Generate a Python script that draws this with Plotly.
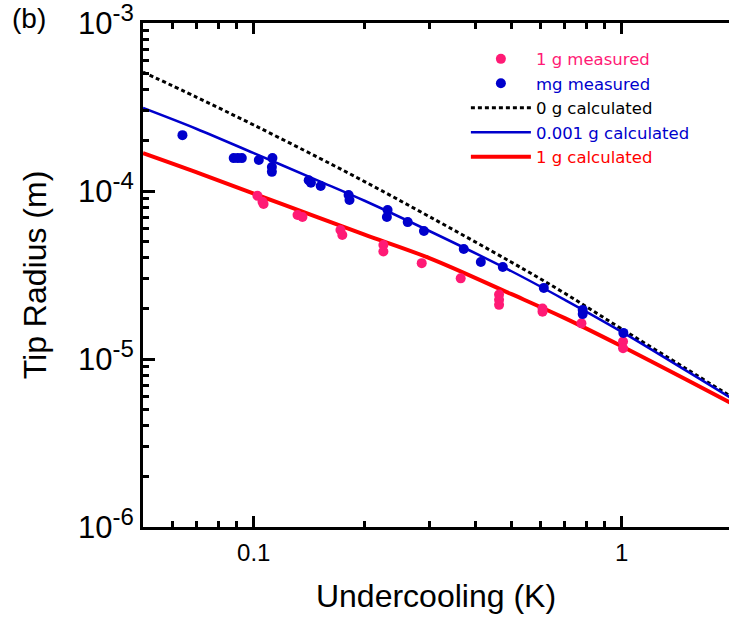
import math
import plotly.graph_objects as go

# ---- data ----
x_calc = [0.05, 0.07, 0.1, 0.15, 0.2, 0.3, 0.5, 0.7, 1.0, 1.5, 2.0]
r_0g = [5.11e-4, 3.61e-4, 2.47e-4, 1.578e-4, 1.138e-4, 7.04e-5, 3.78e-5, 2.46e-5, 1.509e-5, 8.72e-6, 5.90e-6]
r_0001g = [3.12e-4, 2.34e-4, 1.68e-4, 1.15e-4, 8.75e-5, 5.78e-5, 3.34e-5, 2.25e-5, 1.45e-5, 8.49e-6, 5.78e-6]
r_1g = [1.68e-4, 1.29e-4, 9.64e-5, 6.94e-5, 5.50e-5, 3.99e-5, 2.44e-5, 1.75e-5, 1.19e-5, 7.53e-6, 5.4e-6]

mg_x = [0.064, 0.0882, 0.0905, 0.0928, 0.1032, 0.1124, 0.112, 0.112, 0.141, 0.143, 0.152,
        0.181, 0.182, 0.231, 0.230, 0.262, 0.290, 0.372, 0.414, 0.475, 0.614, 0.783, 0.783, 1.01]
mg_y = [2.15e-4, 1.57e-4, 1.57e-4, 1.57e-4, 1.53e-4, 1.57e-4, 1.39e-4, 1.30e-4, 1.16e-4, 1.12e-4, 1.07e-4,
        9.46e-5, 8.83e-5, 7.7e-5, 7.0e-5, 6.53e-5, 5.78e-5, 4.52e-5, 3.78e-5, 3.53e-5, 2.65e-5, 1.96e-5, 1.85e-5, 1.43e-5]

g1_x = [0.1023, 0.1056, 0.1063, 0.1315, 0.1356, 0.172, 0.174, 0.225, 0.225, 0.286, 0.365,
        0.464, 0.464, 0.464, 0.609, 0.609, 0.777, 1.008, 1.008]
g1_y = [9.37e-5, 8.63e-5, 8.37e-5, 7.2e-5, 7.0e-5, 5.86e-5, 5.47e-5, 4.77e-5, 4.36e-5, 3.72e-5, 3.02e-5,
        2.42e-5, 2.25e-5, 2.10e-5, 2.0e-5, 1.91e-5, 1.63e-5, 1.27e-5, 1.16e-5]

y_tickvals = [1e-6, 1e-5, 1e-4, 1e-3]
y_exponents = ["-6", "-5", "-4", "-3"]
x_tickvals = [0.1, 1]
x_ticktext = ["0.1", "1"]

PINK = "#FF1A75"
BLUE = "#0000CC"
RED = "#FF0000"
FONT = "Arial, Liberation Sans, sans-serif"
LEG_FONT = "DejaVu Sans, sans-serif"

y_ticktext = ["10<sup><span style='font-size:24px'>%s</span></sup>" % e for e in y_exponents]

fig = go.Figure()
fig.add_trace(go.Scatter(x=x_calc, y=r_0g, mode="lines",
                         line=dict(color="black", width=3, dash="4px,3px", shape="spline"),
                         name="0 g calculated", legendrank=3))
fig.add_trace(go.Scatter(x=x_calc, y=r_0001g, mode="lines", line=dict(color=BLUE, width=2.5, shape="spline"),
                         name="<span style='color:%s'>0.001 g calculated</span>" % BLUE, legendrank=4))
fig.add_trace(go.Scatter(x=x_calc, y=r_1g, mode="lines", line=dict(color=RED, width=4, shape="spline"),
                         name="<span style='color:%s'>1 g calculated</span>" % RED, legendrank=5))
fig.add_trace(go.Scatter(x=g1_x, y=g1_y, mode="markers", marker=dict(color=PINK, size=10),
                         name="<span style='color:%s'>1 g measured</span>" % PINK, legendrank=1))
fig.add_trace(go.Scatter(x=mg_x, y=mg_y, mode="markers", marker=dict(color=BLUE, size=10),
                         name="<span style='color:%s'>mg measured</span>" % BLUE, legendrank=2))

xmin = math.log10(0.05)
xmax = xmin + 586 / 368.0

minor = dict(dtick="D1", ticks="inside", ticklen=6, tickwidth=3, tickcolor="black")

fig.update_layout(
    width=729, height=624,
    margin=dict(l=143, r=0, t=23, b=97, autoexpand=False),
    paper_bgcolor="white", plot_bgcolor="white",
    font=dict(family=FONT, color="black"),
    showlegend=True,
    legend=dict(x=0.551, y=0.963, xanchor="left", yanchor="top", bgcolor="rgba(0,0,0,0)",
                font=dict(size=16.5, family=LEG_FONT), itemwidth=60, tracegroupgap=0),
    xaxis=dict(type="log", range=[xmin, xmax], showline=True, linecolor="black", linewidth=3,
               mirror="ticks", ticks="inside", ticklen=11, tickwidth=3, tickcolor="black",
               tickvals=x_tickvals, ticktext=x_ticktext, tickfont=dict(size=24), ticklabelstandoff=2,
               ticklabeloverflow="allow",
               minor=minor, showgrid=False, zeroline=False, automargin=False,
               title=dict(text="Undercooling (K)", font=dict(size=32), standoff=20)),
    yaxis=dict(type="log", range=[-6, -3], showline=True, linecolor="black", linewidth=3,
               mirror=False, ticks="inside", ticklen=12, tickwidth=3, tickcolor="black",
               tickvals=y_tickvals, ticktext=y_ticktext, tickfont=dict(size=31),
               ticklabeloverflow="allow",
               minor=minor, showgrid=False, zeroline=False, automargin=False,
               title=dict(text="Tip Radius (m)", font=dict(size=32), standoff=22)),
    yaxis2=dict(type="log", range=[-6, -3], overlaying="y", side="right", showline=False,
                ticks="inside", ticklen=12, tickwidth=3, tickcolor="black", automargin=False,
                tickvals=y_tickvals, showticklabels=False, minor=minor, showgrid=False, zeroline=False),
)

fig.add_annotation(text="(b)", xref="paper", yref="paper", x=(10 - 143) / 586.0, y=1 + 5 / 504.0,
                   xanchor="left", yanchor="middle", showarrow=False, font=dict(size=28, family=FONT))

fig.write_html("out.html", config={"displayModeBar": False},
               post_script="document.body.style.margin='0px';document.body.style.overflow='hidden';")
